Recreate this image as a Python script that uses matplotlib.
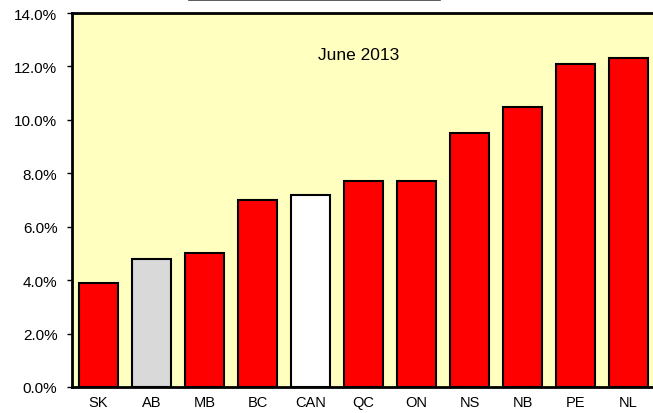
import matplotlib
matplotlib.use("Agg")
import matplotlib.pyplot as plt
from matplotlib.lines import Line2D
from matplotlib.ticker import FuncFormatter

provinces = ['SK', 'AB', 'MB', 'BC', 'CAN', 'QC', 'ON', 'NS', 'NB', 'PE', 'NL']
rates = [3.9, 4.8, 5.0, 7.0, 7.2, 7.7, 7.7, 9.5, 10.5, 12.1, 12.3]
bar_colors = ['#FF0000', '#D9D9D9', '#FF0000', '#FF0000', '#FFFFFF', '#FF0000',
              '#FF0000', '#FF0000', '#FF0000', '#FF0000', '#FF0000']
y_ticks = [0, 2, 4, 6, 8, 10, 12, 14]
period = 'June 2013'

plt.rcParams['font.family'] = ['Liberation Sans', 'DejaVu Sans']

fig = plt.figure(figsize=(6.53, 4.14), dpi=100)
ax = fig.add_axes([72 / 653, 26 / 414, 583 / 653, 374 / 414])
ax.set_facecolor('#FFFFC0')

x = list(range(len(provinces)))
ax.bar(x, rates, width=0.72, color=bar_colors, edgecolor='black', linewidth=1.5, zorder=3)

ax.set_xlim(-0.5, len(provinces) - 0.5)
ax.set_ylim(0, 14)
ax.set_yticks(y_ticks)
ax.yaxis.set_major_formatter(FuncFormatter(lambda v, p: '%.1f%%' % v))
ax.set_xticks(x)
ax.set_xticklabels(provinces)
ax.tick_params(axis='x', length=0, pad=6, labelsize=10.5)
ax.tick_params(axis='y', direction='out', length=3.5, width=1, pad=7, labelsize=11)

for s in ax.spines.values():
    s.set_linewidth(2)
    s.set_color('black')

ax.text(4.9, 12.45, period, ha='center', va='center', fontsize=12.5)

# underline of the title cut off at the top
fig.add_artist(Line2D([189 / 653, 440 / 653], [1 - 1 / 414, 1 - 1 / 414],
                      transform=fig.transFigure, color='#404040', linewidth=1.2))

fig.savefig('out.png', dpi=100)
